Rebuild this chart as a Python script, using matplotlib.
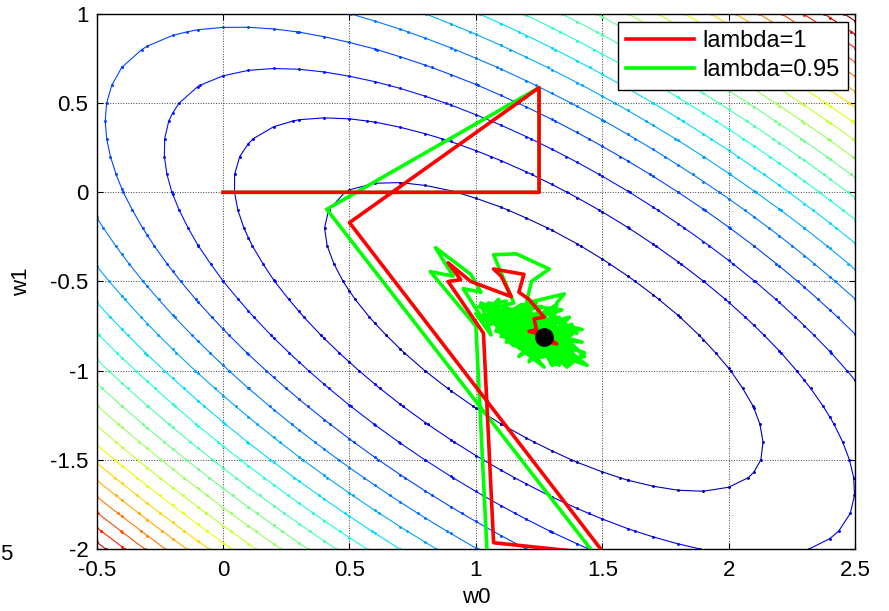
import numpy as np
import matplotlib
matplotlib.use("Agg")
import matplotlib.pyplot as plt

plt.rcParams["font.family"] = ["Liberation Sans", "DejaVu Sans"]

# quadratic error surface J(w) = (w - w_opt)^T R (w - w_opt)
w_opt = [1.27, -0.81]
R = [[1.0, 0.7], [0.7, 1.0]]
level_step = 0.385
n_levels = 22
grid_step = 0.1

# RLS weight trajectories (w0, w1), lambda = 1
red_w0 = [0.0, 1.25, 1.25, 0.50, 1.51, 1.07, 1.03, 0.89, 0.94, 0.89, 0.98, 1.14,
          1.10, 1.07, 1.19, 1.17, 1.21, 1.27, 1.23, 1.24, 1.21, 1.27, 1.32, 1.26, 1.29]
red_w1 = [0.0, 0.0, 0.587, -0.17, -2.03, -1.965, -0.79, -0.50, -0.49, -0.395, -0.50, -0.585,
          -0.47, -0.43, -0.46, -0.56, -0.60, -0.70, -0.71, -0.77, -0.78, -0.80, -0.85, -0.83, -0.81]

# lambda = 0.95
green_w0 = [0.0, 1.25, 1.25, 0.41, 1.47, 1.045, 1.00, 0.82, 0.91, 0.84, 0.98, 1.02, 0.95,
            1.03, 1.09, 1.05, 1.15, 1.07, 1.16, 1.29, 1.22, 1.20, 1.35, 1.32, 1.30, 1.42,
            1.05, 1.22, 1.10, 1.32, 1.15, 1.28, 1.08, 1.38, 1.18, 1.25, 1.12, 1.34, 1.20,
            1.41, 1.17, 1.30, 1.06, 1.27, 1.22, 1.36, 1.13, 1.24, 1.33, 1.21, 1.09, 1.29,
            1.42, 1.17, 1.26, 1.11, 1.35, 1.23, 1.37, 1.14, 1.28, 1.04, 1.20, 1.31, 1.24,
            1.40, 1.25, 1.12, 1.30, 1.22, 1.36, 1.15, 1.27, 1.09, 1.33, 1.20, 1.44, 1.24,
            1.14, 1.31, 1.19, 1.38, 1.07, 1.26, 1.35, 1.17, 1.29, 1.22, 1.15, 1.34, 1.25,
            1.39, 1.18, 1.28, 1.02, 1.06, 1.00, 1.43, 1.36, 1.19, 1.31, 1.23, 1.27,
            1.01, 1.12, 1.08, 1.19, 1.04, 1.16, 1.26, 1.13, 1.21, 1.11, 1.34, 1.18, 1.06,
            1.24, 1.15, 1.40, 1.29, 1.10, 1.37, 1.21, 1.32, 1.16, 1.26, 1.43, 1.30, 1.20,
            1.35, 1.12, 1.28, 1.23, 1.38, 1.17, 1.33, 1.25, 1.29]
green_w1 = [0.0, 0.0, 0.587, -0.095, -2.03, -2.04, -0.75, -0.445, -0.47, -0.31, -0.46, -0.56, -0.54,
            -0.72, -0.60, -0.66, -0.62, -0.35, -0.345, -0.43, -0.50, -0.62, -0.57, -0.62, -0.76, -0.77,
            -0.62, -0.80, -0.70, -0.92, -0.66, -0.86, -0.74, -0.90, -0.72, -0.95, -0.82, -0.78, -0.68,
            -0.94, -0.87, -0.74, -0.69, -0.83, -0.91, -0.86, -0.76, -0.70, -0.97, -0.85, -0.66, -0.79,
            -0.84, -0.80, -0.91, -0.73, -0.82, -0.75, -0.96, -0.85, -0.71, -0.66, -0.78, -0.88, -0.93,
            -0.88, -0.77, -0.68, -0.82, -0.92, -0.75, -0.79, -0.98, -0.78, -0.85, -0.71, -0.97, -0.87,
            -0.74, -0.93, -0.82, -0.80, -0.72, -0.78, -0.91, -0.69, -0.90, -0.83, -0.86, -0.76, -0.86,
            -0.93, -0.76, -0.81, -0.62, -0.80, -0.68, -0.90, -0.98, -0.72, -0.83, -0.90, -0.79,
            -0.64, -0.61, -0.78, -0.64, -0.70, -0.83, -0.64, -0.69, -0.88, -0.76, -0.66, -0.63, -0.74,
            -0.62, -0.72, -0.79, -0.67, -0.81, -0.70, -0.95, -0.63, -0.77, -0.69, -0.92, -0.97, -0.66,
            -0.79, -0.84, -0.66, -0.87, -0.74, -0.92, -0.70, -0.89, -0.80]

x_ticks = [-0.5, 0, 0.5, 1, 1.5, 2, 2.5]
y_ticks = [-2, -1.5, -1, -0.5, 0, 0.5, 1]
x_tick_labels = ["-0.5", "0", "0.5", "1", "1.5", "2", "2.5"]
y_tick_labels = ["-2", "-1.5", "-1", "-0.5", "0", "0.5", "1"]

W0, W1 = np.meshgrid(np.arange(-0.5, 2.5 + 1e-9, grid_step), np.arange(-2.0, 1.0 + 1e-9, grid_step))
R = np.array(R)
d0 = W0 - w_opt[0]
d1 = W1 - w_opt[1]
J = R[0, 0] * d0 ** 2 + 2 * R[0, 1] * d0 * d1 + R[1, 1] * d1 ** 2
levels = level_step * np.arange(1, n_levels + 1)

fig = plt.figure(figsize=(8.89, 6.11), dpi=100)
ax = fig.add_axes([0.1088, 0.1015, 0.853, 0.8756])

cmap = plt.get_cmap("jet")
norm = plt.Normalize(J.min(), J.max())
cs = ax.contour(W0, W1, J, levels=levels, cmap=cmap, norm=norm, linewidths=0.8)
# small vertex dots like the original rendering
for lev, segs in zip(cs.levels, cs.allsegs):
    for seg in segs:
        if len(seg):
            ax.plot(seg[:, 0], seg[:, 1], ".", ms=2.2, color=cmap(norm(lev)))

ax.grid(True, color="0.25", linestyle=":", linewidth=0.7)
ax.set_axisbelow(True)

g_line, = ax.plot(green_w0, green_w1, color=(0, 1, 0), linewidth=2.6, zorder=4)
r_line, = ax.plot(red_w0, red_w1, color=(1, 0, 0), linewidth=2.6, zorder=5)
ax.plot(w_opt[0], w_opt[1], "o", color="k", ms=12.5, zorder=6)

ax.set_xlim(-0.5, 2.5)
ax.set_ylim(-2, 1)
ax.set_xticks(x_ticks)
ax.set_xticklabels(x_tick_labels)
ax.set_yticks(y_ticks)
ax.set_yticklabels(y_tick_labels)
ax.tick_params(direction="in", top=True, right=True, length=4, labelsize=16)
ax.tick_params(axis="x", pad=8)
ax.tick_params(axis="y", pad=6)
ax.set_xlabel("w0", fontsize=16, labelpad=4)
ax.set_ylabel("w1", fontsize=16, labelpad=13)
for sp in ax.spines.values():
    sp.set_linewidth(1.0)

leg = ax.legend([r_line, g_line], ["lambda=1", "lambda=0.95"], loc="upper right",
                bbox_to_anchor=(0.991, 0.985), borderaxespad=0, fontsize=17,
                fancybox=False, framealpha=1, edgecolor="k", handlelength=2.9,
                borderpad=0.35, labelspacing=0.3, handletextpad=0.35)
leg.get_frame().set_linewidth(1.0)

# stray tick label fragment at the left edge of the original image
fig.text(0.0, 0.093, "5", ha="left", va="center", fontsize=16)

fig.savefig("out.png", dpi=100)
